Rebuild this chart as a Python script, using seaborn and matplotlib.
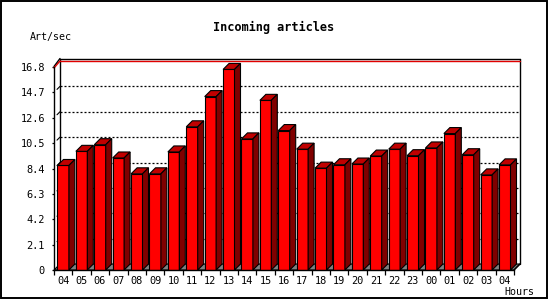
import numpy as np
import pandas as pd
import seaborn as sns
import matplotlib
matplotlib.use("Agg")
import matplotlib.pyplot as plt
from matplotlib.patches import Polygon, Rectangle
from matplotlib.ticker import FixedLocator

# ---- data ----
hours = ["04", "05", "06", "07", "08", "09", "10", "11", "12", "13", "14", "15",
         "16", "17", "18", "19", "20", "21", "22", "23", "00", "01", "02", "03", "04"]
rates = [8.65, 9.82, 10.37, 9.27, 7.96, 7.96, 9.77, 11.85, 14.35, 16.6, 10.85, 14.04,
         11.54, 10.0, 8.43, 8.71, 8.77, 9.43, 10.0, 9.46, 10.1, 11.29, 9.54, 7.87, 8.7]
y_ticks = [0, 2.1, 4.2, 6.3, 8.4, 10.5, 12.6, 14.7, 16.8]
y_tick_labels = ["0", "2.1", "4.2", "6.3", "8.4", "10.5", "12.6", "14.7", "16.8"]
title = "Incoming articles"
y_label = "Art/sec"
x_label = "Hours"

FRONT = "#FF0000"
TOP = "#C00000"
SIDE = "#800000"
FLOOR = "#808080"

sns.set_style("white")
plt.rcParams["font.family"] = ["DejaVu Sans Mono"]
plt.rcParams["text.color"] = "black"
plt.rcParams["axes.edgecolor"] = "black"
plt.rcParams["xtick.color"] = "black"
plt.rcParams["ytick.color"] = "black"

W, H = 550, 300
fig = plt.figure(figsize=(W / 100, H / 100), dpi=100)
fig.patch.set_facecolor("white")
ax = fig.add_axes([54 / W, 1 - 270 / H, 460 / W, 203 / H])
ax.set_facecolor("none")

df = pd.DataFrame({"slot": np.arange(len(hours)), "rate": rates})
sns.barplot(data=df, x="slot", y="rate", color=FRONT, saturation=1, width=0.62,
            edgecolor="black", linewidth=0.8, ax=ax, zorder=5)
bars = list(ax.patches)

x0, x1 = -0.5, len(hours) - 0.5
ax.set_xlim(x0, x1)
ax.set_ylim(0, y_ticks[-1])

# depth of the 3-D effect (6 px), converted to data units
DEPTH = 6.0
p0 = ax.transData.transform((0, 0))
p1 = ax.transData.transform((1, 1))
ux, uy = p1[0] - p0[0], p1[1] - p0[1]
DX, DY = DEPTH / ux, DEPTH / uy
ytop = y_ticks[-1]
WALL_TOP = ytop + DY + 2.5 / uy

# floor
ax.add_patch(Polygon([(x0, 0), (x1, 0), (x1 + DX, DY), (x0 + DX, DY)], closed=True,
                     fc=FLOOR, ec="black", lw=0.8, zorder=1, clip_on=False))
# back wall frame
kw = dict(color="black", lw=1.0, zorder=2, clip_on=False)
ax.plot([x0 + DX, x0 + DX], [DY, WALL_TOP], **kw)
ax.plot([x0 + DX, x1 + DX], [WALL_TOP, WALL_TOP], **kw)
ax.plot([x1 + DX, x1 + DX], [DY, WALL_TOP], **kw)
ax.plot([x0, x0 + DX], [ytop + 0.5 / uy, WALL_TOP], **kw)
ax.plot([x1, x1 + DX], [0, DY], **kw)
# grid lines on back wall
for t in y_ticks[1:-1]:
    ax.plot([x0 + DX, x1 + DX], [t + DY, t + DY], color="black", lw=0.9,
            ls=(0, (1.6, 1.6)), zorder=2, clip_on=False)
    ax.plot([x0 + DX * 0.5, x0 + DX], [t + DY * 0.5, t + DY], color="black",
            lw=0.8, zorder=2, clip_on=False)
# red top line
ax.plot([x0 + DX, x1 + DX], [ytop + DY, ytop + DY], color="#E00000", lw=1.0,
        zorder=2, clip_on=False)
ax.plot([x0, x0 + DX], [ytop - 1.0 / uy, ytop + DY], color="#E00000", lw=1.0,
        zorder=2, clip_on=False)

# 3-D faces of each bar
for i, p in enumerate(bars):
    x, w, h = p.get_x(), p.get_width(), p.get_height()
    z = 5 + i * 0.01
    p.set_zorder(z)
    ax.add_patch(Polygon([(x, h), (x + w, h), (x + w + DX, h + DY), (x + DX, h + DY)],
                         closed=True, fc=TOP, ec="black", lw=0.8, zorder=z,
                         clip_on=False))
    ax.add_patch(Polygon([(x + w, 0), (x + w + DX, DY), (x + w + DX, h + DY), (x + w, h)],
                         closed=True, fc=SIDE, ec="black", lw=0.8, zorder=z,
                         clip_on=False))

# spines & ticks
for s in ["top", "right"]:
    ax.spines[s].set_visible(False)
for s in ["left", "bottom"]:
    ax.spines[s].set_linewidth(1.0)
    ax.spines[s].set_color("black")
    ax.spines[s].set_zorder(10)

ax.set_xticks(range(len(hours)))
ax.set_xticklabels(hours)
ax.xaxis.set_minor_locator(FixedLocator(np.arange(x0, x1 + 0.01, 1.0)))
ax.set_yticks(y_ticks)
ax.set_yticklabels(y_tick_labels)
ax.tick_params(axis="x", which="major", length=0, pad=4.6, labelsize=7.4)
ax.tick_params(axis="x", which="minor", length=3.8, width=0.9, bottom=True)
ax.tick_params(axis="y", which="major", length=1.5, width=0.9, pad=5, labelsize=7.4,
               left=True)
ax.set_xlabel("")
ax.set_ylabel("")

fig.text(274 / W, 1 - 27 / H, title, ha="center", va="center", fontsize=8.6,
         fontweight="bold")
fig.text(30 / W, 1 - 37 / H, y_label, ha="left", va="center", fontsize=7.2)
fig.text(534 / W, 1 - 292 / H, x_label, ha="right", va="center", fontsize=7.2)

# outer frame
fig.add_artist(Rectangle((0.6 / W, 1.6 / H), 546.5 / W, 297.5 / H,
                         transform=fig.transFigure, fill=False, ec="black", lw=1.4))

fig.savefig("out.png", dpi=100, facecolor="white")
